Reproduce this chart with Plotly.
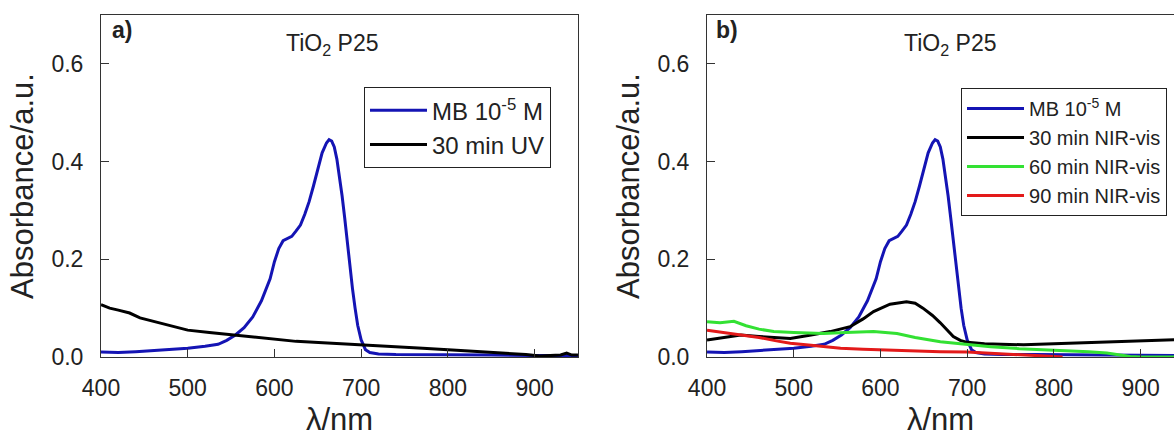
import plotly.graph_objects as go

# wavelength (nm) / absorbance
mb_nm = [400, 420, 440, 460, 480, 500, 520, 535, 545, 555, 565, 575, 585, 595,
         600, 605, 610, 615, 620, 625, 630, 635, 640, 645, 650, 655, 660, 663,
         666, 669, 672, 675, 678, 681, 684, 687, 690, 693, 696, 700, 705, 710,
         720, 740, 780, 850, 900, 950]
mb_abs = [0.010, 0.009, 0.011, 0.013, 0.015, 0.018, 0.022, 0.026, 0.034, 0.045,
          0.060, 0.082, 0.115, 0.160, 0.195, 0.222, 0.238, 0.243, 0.247, 0.258,
          0.270, 0.292, 0.318, 0.350, 0.385, 0.418, 0.438, 0.445, 0.442, 0.430,
          0.405, 0.370, 0.330, 0.285, 0.235, 0.190, 0.140, 0.100, 0.065, 0.035,
          0.015, 0.009, 0.006, 0.005, 0.005, 0.004, 0.003, 0.003]

uv30_nm = [400, 410, 420, 433, 445, 463, 480, 500, 525, 552, 575, 598, 625, 656,
           680, 698, 730, 771, 810, 840, 868, 890, 906, 920, 930, 937, 943, 950]
uv30_abs = [0.107, 0.100, 0.096, 0.090, 0.080, 0.072, 0.063, 0.055, 0.050, 0.045,
            0.040, 0.036, 0.032, 0.029, 0.027, 0.025, 0.022, 0.018, 0.014, 0.011,
            0.008, 0.005, 0.002, 0.003, 0.004, 0.008, 0.004, 0.004]

nir30_nm = [400, 420, 439, 460, 480, 496, 520, 542, 565, 580, 592, 611, 630, 640,
            649, 660, 669, 677, 684, 692, 700, 720, 765, 800, 842, 880, 910, 950]
nir30_abs = [0.035, 0.040, 0.045, 0.042, 0.040, 0.038, 0.045, 0.052, 0.062, 0.078,
             0.093, 0.108, 0.113, 0.110, 0.100, 0.085, 0.070, 0.055, 0.042, 0.034,
             0.030, 0.027, 0.025, 0.027, 0.030, 0.032, 0.034, 0.036]

nir60_nm = [400, 415, 431, 445, 460, 477, 500, 534, 560, 592, 619, 640, 669, 700,
            727, 760, 803, 840, 861, 875, 888, 900, 950]
nir60_abs = [0.072, 0.070, 0.073, 0.064, 0.057, 0.052, 0.050, 0.048, 0.050, 0.052,
             0.048, 0.040, 0.031, 0.025, 0.021, 0.017, 0.014, 0.011, 0.008, 0.005,
             0.001, 0.000, 0.000]

nir90_nm = [400, 420, 439, 460, 480, 496, 520, 554, 580, 611, 640, 669, 700, 727,
            765, 790, 810]
nir90_abs = [0.055, 0.050, 0.045, 0.040, 0.033, 0.028, 0.024, 0.018, 0.016, 0.014,
             0.013, 0.011, 0.010, 0.008, 0.004, 0.002, 0.000]

y_ticks = [0.0, 0.2, 0.4, 0.6]
x_ticks = [400, 500, 600, 700, 800, 900]

BLUE = "#1414b4"
BLACK = "#000000"
GREEN = "#33e133"
RED = "#e31a1a"
FONT = "Arial, Liberation Sans, sans-serif"


def line(x, y, name, color, xaxis, yaxis, legend):
    return go.Scatter(
        x=x, y=y, name=name, mode="lines",
        line=dict(color=color, width=3),
        xaxis=xaxis, yaxis=yaxis, legend=legend,
    )


fig = go.Figure()
fig.add_trace(line(mb_nm, mb_abs, "MB 10<sup>-5</sup> M", BLUE, "x", "y", "legend"))
fig.add_trace(line(uv30_nm, uv30_abs, "30 min UV", BLACK, "x", "y", "legend"))
fig.add_trace(line(mb_nm, mb_abs, "MB 10<sup>-5</sup> M", BLUE, "x2", "y2", "legend2"))
fig.add_trace(line(nir30_nm, nir30_abs, "30 min NIR-vis", BLACK, "x2", "y2", "legend2"))
fig.add_trace(line(nir60_nm, nir60_abs, "60 min NIR-vis", GREEN, "x2", "y2", "legend2"))
fig.add_trace(line(nir90_nm, nir90_abs, "90 min NIR-vis", RED, "x2", "y2", "legend2"))

axis_common = dict(
    showline=True, linecolor="#333333", linewidth=1,
    ticks="inside", ticklen=8, tickcolor="#333333",
    showgrid=False, zeroline=False,
    tickfont=dict(size=23, color="#222222"),
)
xa = dict(axis_common, tickvals=x_ticks, ticklabelstandoff=10,
          title=dict(text="λ/nm", font=dict(size=31, color="#222222"), standoff=12))
ya = dict(axis_common, tickvals=y_ticks, tickformat=".1f", range=[0, 0.70],
          ticklabelstandoff=12,
          title=dict(text="Absorbance/a.u.", font=dict(size=31, color="#222222"), standoff=8))

fig.update_layout(
    width=1174, height=437,
    margin=dict(l=101, r=0, t=15, b=80, autoexpand=False),
    paper_bgcolor="white", plot_bgcolor="white",
    font=dict(family=FONT, color="#222222"),
    xaxis=dict(xa, domain=[0, 0.4445], range=[400, 950], mirror=True, anchor="y"),
    yaxis=dict(ya, mirror=True, anchor="x"),
    xaxis2=dict(xa, domain=[0.5648, 1.0], range=[400, 938.5], mirror=True, anchor="y2"),
    yaxis2=dict(ya, mirror=False, anchor="x2"),
    legend=dict(
        x=0.2451, y=0.789, xanchor="left", yanchor="top",
        bordercolor="#222222", borderwidth=1, bgcolor="white",
        font=dict(size=24, color="#222222"), tracegroupgap=0, itemwidth=57,
    ),
    legend2=dict(
        x=0.8015, y=0.7865, xanchor="left", yanchor="top",
        bordercolor="#222222", borderwidth=1, bgcolor="white",
        font=dict(size=20, color="#222222"), tracegroupgap=0, itemwidth=57,
    ),
    showlegend=True,
)

for xref, yref, label, lx, tx in [("x domain", "y domain", "a)", 0.044, 0.484),
                                  ("x2 domain", "y2 domain", "b)", 0.043, 0.52)]:
    fig.add_annotation(x=lx, y=0.956, xref=xref, yref=yref, text=f"<b>{label}</b>",
                       xanchor="center", yanchor="middle",
                       showarrow=False, font=dict(size=23, color="#222222"))
    fig.add_annotation(x=tx, y=0.915, xref=xref, yref=yref, text="TiO<sub>2</sub> P25",
                       xanchor="center", yanchor="middle",
                       showarrow=False, font=dict(size=23, color="#222222"))

fig.write_html("out.html", config={"displayModeBar": False},
               post_script="document.body.style.margin = '0px';")
